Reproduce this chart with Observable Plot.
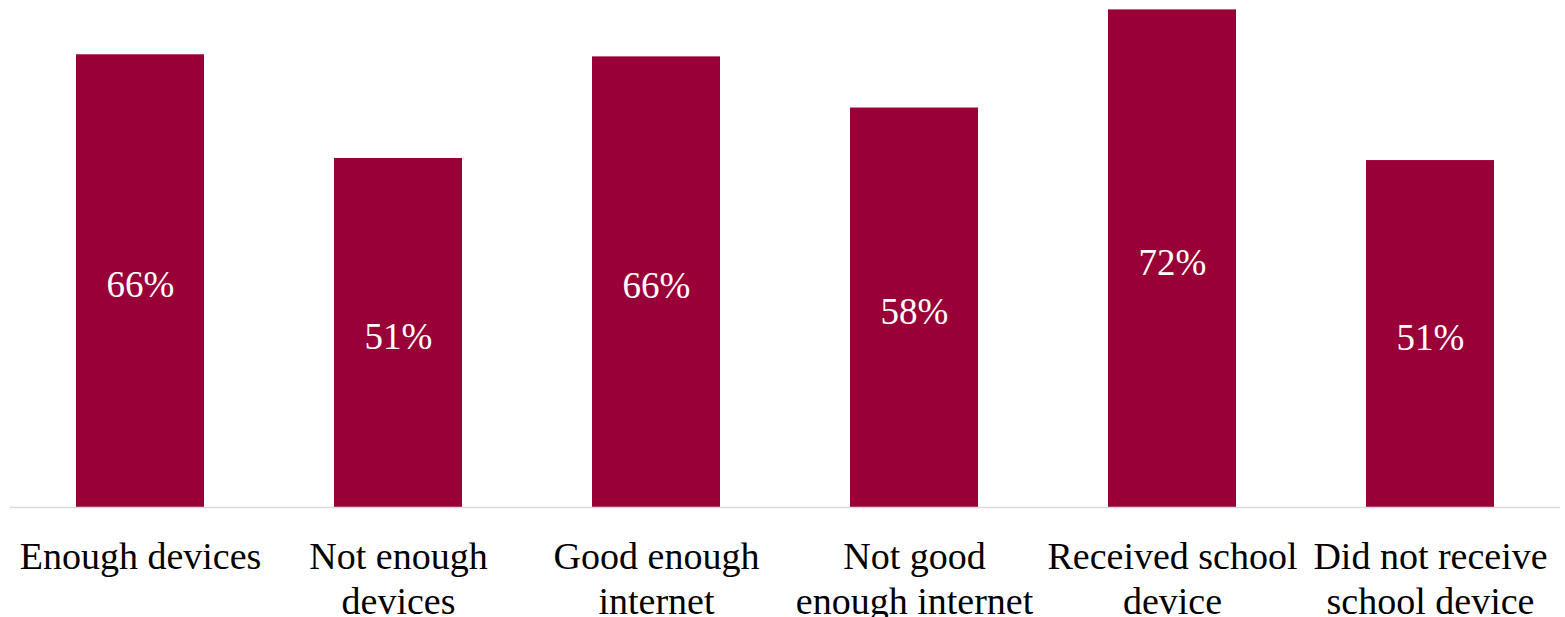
<!DOCTYPE html>
<html>
<head>
<meta charset="utf-8">
<script src="https://cdn.jsdelivr.net/npm/d3@7"></script>
<script src="https://cdn.jsdelivr.net/npm/@observablehq/plot@0.6"></script>
<style>
  html, body { margin: 0; padding: 0; background: #fff; }
  #chart svg { display: block; }
</style>
</head>
<body>
<div id="chart"></div>
<script>
const categories = ["Enough devices", "Not enough devices", "Good enough internet", "Not good enough internet", "Received school device", "Did not receive school device"];
const tickLabels = ["Enough devices", "Not enough\ndevices", "Good enough\ninternet", "Not good\nenough internet", "Received school\ndevice", "Did not receive\nschool device"];
const values = [65.5, 50.5, 65.2, 57.8, 72.0, 50.2];
const valueLabels = ["66%", "51%", "66%", "58%", "72%", "51%"];

const data = categories.map((c, i) => ({cat: c, value: values[i], label: valueLabels[i]}));

const chart = Plot.plot({
  width: 1565,
  height: 617,
  marginLeft: 10,
  marginRight: 5,
  marginTop: 8,
  marginBottom: 110,
  style: {fontFamily: "'Liberation Serif', serif", background: "#fff"},
  x: {domain: categories, paddingInner: 0.505, paddingOuter: 0.2525, label: null},
  y: {domain: [0, 72.2], axis: null},
  marks: [
    Plot.barY(data, {x: "cat", y: "value", fill: "#990038"}),
    Plot.ruleY([0], {stroke: "#d9d9d9", strokeWidth: 1.5}),
    Plot.text(data, {x: "cat", y: d => d.value / 2, text: "label", fill: "#fff", fontSize: 37, dy: 4}),
    Plot.axisX({
      tickSize: 0,
      tickPadding: 30,
      fontSize: 38,
      lineHeight: 1.18,
      fill: "#000",
      tickFormat: d => tickLabels[categories.indexOf(d)],
      label: null
    })
  ]
});
document.getElementById("chart").appendChild(chart);
</script>
</body>
</html>
